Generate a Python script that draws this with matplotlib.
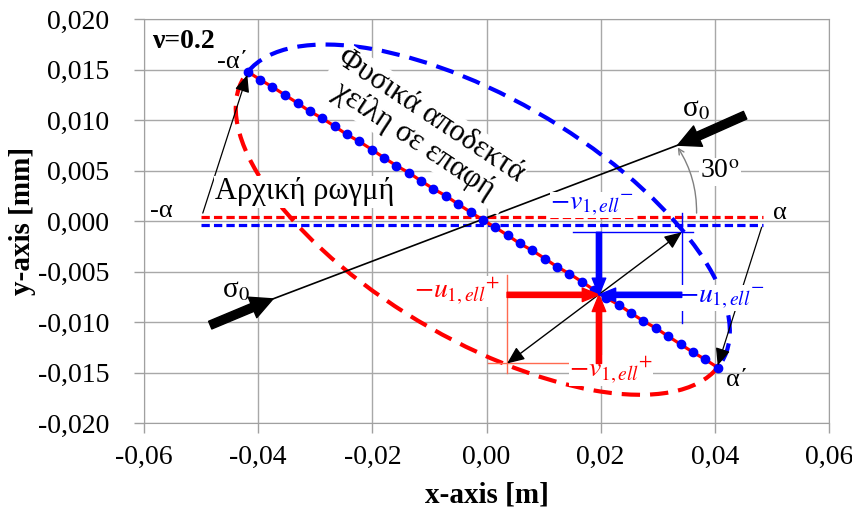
import numpy as np
import matplotlib
matplotlib.use('Agg')
import matplotlib.pyplot as plt
import matplotlib.patches as mpatches
import matplotlib.transforms as mtransforms

plt.rcParams['font.family'] = ['Liberation Serif', 'DejaVu Serif']
plt.rcParams['mathtext.fontset'] = 'stix'

# axes
x_ticks = [-0.06, -0.04, -0.02, 0.0, 0.02, 0.04, 0.06]
x_labels = ['-0,06', '-0,04', '-0,02', '0,00', '0,02', '0,04', '0,06']
y_ticks = [0.020, 0.015, 0.010, 0.005, 0.0, -0.005, -0.010, -0.015, -0.020]
y_labels = ['0,020', '0,015', '0,010', '0,005', '0,000', '-0,005', '-0,010', '-0,015', '-0,020']

# initial (horizontal) crack faces
crack_x = [-0.050, 0.0485]
crack_up_y = [0.0004, 0.0004]
crack_low_y = [-0.0004, -0.0004]

# rotated crack, lips in contact (nodes)
lip_x = [-0.0418, -0.0396, -0.0375, -0.0353, -0.0331, -0.0310, -0.0288, -0.0266,
         -0.0245, -0.0223, -0.0201, -0.0180, -0.0158, -0.0136, -0.0115, -0.0093,
         -0.0071, -0.0050, -0.0028, -0.0006, 0.0015, 0.0037, 0.0058, 0.0080,
         0.0102, 0.0123, 0.0145, 0.0167, 0.0188, 0.0210, 0.0232, 0.0253,
         0.0275, 0.0297, 0.0318, 0.0340, 0.0362, 0.0383, 0.0405]
lip_y = [0.0148, 0.0140, 0.0133, 0.0125, 0.0117, 0.0109, 0.0102, 0.0094,
         0.0086, 0.0079, 0.0071, 0.0063, 0.0055, 0.0048, 0.0040, 0.0032,
         0.0025, 0.0017, 0.0009, 0.0001, -0.0006, -0.0014, -0.0022, -0.0029,
         -0.0037, -0.0045, -0.0052, -0.0060, -0.0068, -0.0076, -0.0083, -0.0091,
         -0.0099, -0.0106, -0.0114, -0.0122, -0.0130, -0.0137, -0.0145]

# opened lips (elliptical): centre, half crack vector, opening vector
ell_center = [-0.00065, 0.00015]
ell_major = [0.04115, -0.01465]
ell_open = [-0.0134, -0.0093]

# remote stress sigma_0 direction (30 deg)
sig_line_x = [-0.0374, 0.0335]
sig_line_y = [-0.0077, 0.00753]
sig_tail_x = [-0.0484, 0.0453]
sig_tail_y = [-0.0103, 0.0105]

# displacement point on the crack
pt = (0.0197, -0.0073)
u_plus_x0, v_plus_y0 = 0.0036, -0.0141
v_minus_y0, u_minus_x0 = -0.0011, 0.0342

fig = plt.figure(figsize=(8.53, 5.15), dpi=100)
ax = fig.add_axes([0.1688, 0.1786, 0.8031, 0.7839])
ax.set_xlim(-0.06, 0.06)
ax.set_ylim(-0.02, 0.02)
ax.set_xticks(x_ticks)
ax.set_xticklabels(x_labels)
ax.set_yticks(y_ticks)
ax.set_yticklabels(y_labels)
ax.tick_params(labelsize=20, length=7, color='#a0a0a0', width=1)
ax.tick_params(axis='x', pad=9)
ax.tick_params(axis='y', pad=18)
ax.grid(True, color='#a8a8a8', lw=1)
ax.set_axisbelow(True)
for s in ax.spines.values():
    s.set_color('#a0a0a0')
ax.set_xlabel('x-axis [m]', fontsize=21, fontweight='bold', labelpad=8)
ax.set_ylabel('y-axis [mm]', fontsize=21, fontweight='bold', labelpad=1)

# horizontal initial crack
ax.plot(crack_x, crack_up_y, color='red', lw=2.3, ls=(0, (2.6, 1.3)))
ax.plot(crack_x, crack_low_y, color='blue', lw=2.3, ls=(0, (2.6, 1.3)))

# elliptical lips
M = np.array([[ell_major[0], ell_open[0], ell_center[0]],
              [ell_major[1], ell_open[1], ell_center[1]],
              [0, 0, 1]])
tr = mtransforms.Affine2D(M) + ax.transData
ax.add_patch(mpatches.Arc((0, 0), 2, 2, theta1=0, theta2=180, transform=tr,
                          color='red', lw=3, ls=(0, (4.4, 2.4))))
ax.add_patch(mpatches.Arc((0, 0), 2, 2, theta1=180, theta2=360, transform=tr,
                          color='blue', lw=3, ls=(0, (4.4, 2.4))))

# rotated crack in contact
ax.plot(lip_x, lip_y, color='red', lw=2.3, marker='o', ms=6,
        mfc='blue', mec='blue', zorder=3)

# sigma_0 line + arrows
ax.plot(sig_line_x, sig_line_y, color='black', lw=1.2)
for i in range(2):
    ax.annotate('', xy=(sig_line_x[i], sig_line_y[i]), xytext=(sig_tail_x[i], sig_tail_y[i]),
                arrowprops=dict(arrowstyle='simple,head_length=0.8,head_width=0.8,tail_width=0.3',
                                fc='black', ec='black', mutation_scale=20, shrinkA=0, shrinkB=0))
ax.text(-0.0439, -0.0068, r'σ$_0$', fontsize=21, ha='center', va='center')
ax.text(0.0367, 0.0111, r'σ$_0$', fontsize=21, ha='center', va='center')

# 30 deg arc
ax.annotate('', xy=(0.0335, 0.0073), xytext=(0.0368, 0.0008),
            arrowprops=dict(arrowstyle='->', color='#808080', lw=1,
                            connectionstyle='arc3,rad=0.15', shrinkA=0, shrinkB=0))
ax.text(0.0409, 0.0049, '30$^{\\mathrm{o}}$', fontsize=20, ha='center', va='center',
        bbox=dict(fc='white', ec='none', pad=1))

# displacement arrows
big = 'simple,head_length=0.8,head_width=0.65,tail_width=0.25'
for tail, col in [((u_plus_x0, pt[1]), 'red'), ((pt[0], v_plus_y0), 'red'),
                  ((pt[0], v_minus_y0), 'blue'), ((u_minus_x0, pt[1]), 'blue')]:
    ax.annotate('', xy=pt, xytext=tail,
                arrowprops=dict(arrowstyle=big, fc=col, ec=col, mutation_scale=15,
                                shrinkA=0, shrinkB=0), zorder=4)

# thin reference lines
ax.plot([u_plus_x0, u_plus_x0], [-0.0053, -0.0150], color='#ff6a50', lw=1)
ax.plot([0.0002, 0.0213], [v_plus_y0, v_plus_y0], color='#ff6a50', lw=1)
ax.plot([0.0151, 0.0362], [v_minus_y0, v_minus_y0], color='blue', lw=1)
ax.plot([u_minus_x0, u_minus_x0], [0.0008, -0.0101], color='blue', lw=1)

# double arrow (ellipse diameter)
ax.annotate('', xy=(u_minus_x0, v_minus_y0), xytext=(u_plus_x0, v_plus_y0),
            arrowprops=dict(arrowstyle='<|-|>,head_length=0.7,head_width=0.3', color='black',
                            lw=1, mutation_scale=15, shrinkA=0, shrinkB=0))

# pointers to crack tips
ax.annotate('', xy=(-0.0419, 0.0145), xytext=(-0.0497, 0.0008),
            arrowprops=dict(arrowstyle='-|>,head_length=0.7,head_width=0.3', color='black',
                            lw=0.9, mutation_scale=15, shrinkA=0, shrinkB=0))
ax.annotate('', xy=(0.0405, -0.0143), xytext=(0.0482, -0.0006),
            arrowprops=dict(arrowstyle='-|>,head_length=0.7,head_width=0.3', color='black',
                            lw=0.9, mutation_scale=15, shrinkA=0, shrinkB=0))

# text labels
ax.text(-0.0586, 0.0178, 'ν=0.2', fontsize=20, fontweight='bold', ha='left', va='center')
ax.text(-0.0569, 0.0010, '-α', fontsize=19, ha='center', va='center')
ax.text(0.0514, 0.0008, 'α', fontsize=19, ha='center', va='center')
ax.text(-0.0444, 0.0158, '-α΄', fontsize=19, ha='center', va='center')
ax.text(0.0439, -0.0157, 'α΄', fontsize=19, ha='center', va='center')
ax.text(-0.0318, 0.0029, 'Αρχική ρωγμή', fontsize=22, ha='center', va='center',
        bbox=dict(fc='white', ec='none', pad=1))
ax.text(-0.0112, 0.0092, 'Φυσικά αποδεκτά\nχείλη σε επαφή', fontsize=22, ha='center',
        va='center', rotation=-33.5, rotation_mode='anchor', linespacing=1.05,
        bbox=dict(fc='white', ec='none', pad=1))

mfs = 20
ax.text(0.0185, 0.0016, r'$-{v_{1,ell}}^{-}$', fontsize=mfs, color='blue', ha='center',
        va='center', bbox=dict(fc='white', ec='none', pad=0))
ax.text(0.0412, -0.0076, r'$-{u_{1,ell}}^{-}$', fontsize=mfs, color='blue', ha='center',
        va='center', bbox=dict(fc='white', ec='none', pad=0))
ax.text(-0.0052, -0.0070, r'$-{u_{1,ell}}^{+}$', fontsize=mfs, color='red', ha='center',
        va='center', bbox=dict(fc='white', ec='none', pad=0))
ax.text(0.0218, -0.0148, r'$-{v_{1,ell}}^{+}$', fontsize=mfs, color='red', ha='center',
        va='center', bbox=dict(fc='white', ec='none', pad=0))

fig.savefig('out.png', dpi=100)
